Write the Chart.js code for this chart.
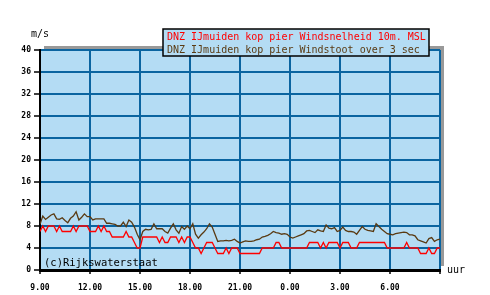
<!DOCTYPE html>
<html>
<head>
<meta charset="utf-8">
<script src="https://cdn.jsdelivr.net/npm/chart.js@4"></script>
<style>
  html, body { margin: 0; padding: 0; background: #fff; }
  #wrap { width: 490px; height: 295px; }
</style>
</head>
<body>
<div id="wrap"><canvas id="windChart" width="490" height="295"></canvas></div>
<script>
// 10-minute samples, 9.00 -> 9.00 next day
const hourLabels = ['9.00', '12.00', '15.00', '18.00', '21.00', '0.00', '3.00', '6.00', ''];
const seriesNames = [
    'DNZ IJmuiden kop pier Windsnelheid 10m. MSL',
    'DNZ IJmuiden kop pier Windstoot over 3 sec'
];

const windSpeed = [
    7, 8, 7, 8, 8, 8, 7, 8, 7, 7, 7, 7, 8, 7, 8, 8, 8, 8,
    7, 7, 7, 8, 7, 8, 7, 7, 6, 6, 6, 6, 6, 7, 6, 6, 5, 4,
    4, 6, 6, 6, 6, 6, 6, 5, 6, 5, 5, 6, 6, 6, 5, 6, 5, 6,
    6, 5, 4, 4, 3, 4, 5, 5, 5, 4, 3, 3, 3, 4, 3, 4, 4, 4,
    3, 3, 3, 3, 3, 3, 3, 3, 4, 4, 4, 4, 4, 5, 5, 4, 4, 4,
    4, 4, 4, 4, 4, 4, 4, 5, 5, 5, 5, 4, 5, 4, 5, 5, 5, 5,
    4, 5, 5, 5, 4, 4, 4, 5, 5, 5, 5, 5, 5, 5, 5, 5, 5, 4,
    4, 4, 4, 4, 4, 4, 5, 4, 4, 4, 4, 3, 3, 3, 4, 3, 3, 4,
    4
];

const windGust = [
    8.3, 9.8, 9.2, 9.6, 10.0, 10.2, 9.3, 9.2, 9.5, 9.0, 8.6, 9.4, 9.8, 10.6, 9.1, 9.6, 10.2, 9.7,
    9.7, 9.1, 9.3, 9.3, 9.3, 9.3, 8.5, 8.5, 8.4, 8.3, 8.0, 8.0, 8.7, 7.9, 9.1, 8.7, 7.8, 6.5,
    5.5, 7.0, 7.4, 7.3, 7.4, 8.4, 7.5, 7.5, 7.5, 7.0, 6.7, 7.6, 8.4, 7.3, 6.7, 7.9, 7.4, 8.0,
    7.5, 8.4, 6.5, 5.8, 6.4, 6.9, 7.5, 8.4, 7.8, 6.5, 5.2, 5.3, 5.3, 5.4, 5.3, 5.4, 5.6, 5.2,
    4.9, 5.1, 5.3, 5.2, 5.2, 5.3, 5.5, 5.6, 6.0, 6.1, 6.3, 6.6, 7.0, 6.8, 6.7, 6.5, 6.6, 6.5,
    6.0, 5.8, 6.0, 6.2, 6.4, 6.6, 7.1, 7.2, 7.0, 6.8, 7.3, 7.1, 7.0, 8.2, 7.6, 7.5, 7.7, 7.0,
    7.2, 7.8, 7.2, 7.0, 7.0, 6.9, 6.5, 7.2, 7.9, 7.4, 7.2, 7.1, 7.0, 8.4, 7.9, 7.4, 7.0, 6.6,
    6.5, 6.4, 6.6, 6.7, 6.8, 6.9, 6.8, 6.4, 6.4, 6.2, 5.5, 5.3, 5.1, 4.9, 5.7, 5.9, 5.2, 5.5,
    5.6
];

const plotBlue = '#b4dcf4';
const gridBlue = '#0a64a0';
const monoFont = '"DejaVu Sans Mono", "Liberation Mono", monospace';

// sample i sits at i/6 hours after 9.00
const toPoints = arr => arr.map((v, i) => ({ x: i / 6, y: v }));

// plot background, shadow, legend box and loose texts
const decorations = {
    id: 'decorations',
    beforeDraw(chart) {
        const { ctx, chartArea: a } = chart;
        ctx.save();
        ctx.fillStyle = '#999999';
        ctx.fillRect(a.left + 4, a.top - 4, a.right - a.left, a.bottom - a.top);
        ctx.fillStyle = plotBlue;
        ctx.fillRect(a.left, a.top, a.right - a.left, a.bottom - a.top);
        ctx.restore();
    },
    afterDraw(chart) {
        const { ctx, chartArea: a } = chart;
        ctx.save();
        // legend box
        ctx.fillStyle = plotBlue;
        ctx.fillRect(163, 29, 266, 27);
        ctx.strokeStyle = '#000';
        ctx.lineWidth = 1.5;
        ctx.strokeRect(163, 29, 266, 27);
        ctx.font = '10px ' + monoFont;
        ctx.textBaseline = 'alphabetic';
        ctx.textAlign = 'left';
        ctx.fillStyle = '#ff0000';
        ctx.fillText(seriesNames[0], 167, 40);
        ctx.fillStyle = '#5a3a12';
        ctx.fillText(seriesNames[1], 167, 52.5);

        ctx.fillStyle = '#000';
        ctx.fillText('m/s', 31, 37);
        ctx.fillText('uur', 447, 273);
        ctx.font = '10.5px ' + monoFont;
        ctx.fillText('(c)Rijkswaterstaat', a.left + 4, 266);
        ctx.restore();
    }
};

const ctx = document.getElementById('windChart').getContext('2d');

new Chart(ctx, {
    type: 'line',
    data: {
        datasets: [{
            label: seriesNames[1],
            data: toPoints(windGust),
            borderColor: '#5a3a12',
            borderWidth: 1.3,
            pointRadius: 0,
            tension: 0,
        }, {
            label: seriesNames[0],
            data: toPoints(windSpeed),
            borderColor: '#ff0000',
            borderWidth: 1.3,
            pointRadius: 0,
            tension: 0,
        }]
    },
    options: {
        responsive: false,
        animation: false,
        layout: { padding: { top: 50, right: 50, left: 0, bottom: 0 } },
        plugins: {
            legend: { display: false },
            tooltip: { enabled: false },
        },
        scales: {
            x: {
                type: 'linear',
                min: 0,
                max: 24,
                ticks: {
                    stepSize: 3,
                    maxRotation: 0,
                    padding: 9,
                    color: '#000',
                    font: { family: monoFont, size: 8, weight: 'bold' },
                    callback: (v) => hourLabels[v / 3] ?? '',
                },
                grid: {
                    color: gridBlue,
                    lineWidth: 2,
                    tickLength: 4,
                    tickColor: '#000',
                    tickWidth: 1.5,
                },
                border: { color: '#000', width: 3 },
                afterFit: (scale) => { scale.height = 25; },
            },
            y: {
                min: 0,
                max: 40,
                ticks: {
                    stepSize: 4,
                    padding: 3,
                    color: '#000',
                    font: { family: monoFont, size: 8, weight: 'bold' },
                },
                grid: {
                    color: gridBlue,
                    lineWidth: 2,
                    tickLength: 6,
                    tickColor: '#000',
                    tickWidth: 1.5,
                },
                border: { color: '#000', width: 2 },
                afterFit: (scale) => { scale.width = 40; },
            }
        }
    },
    plugins: [decorations]
});
</script>
</body>
</html>
